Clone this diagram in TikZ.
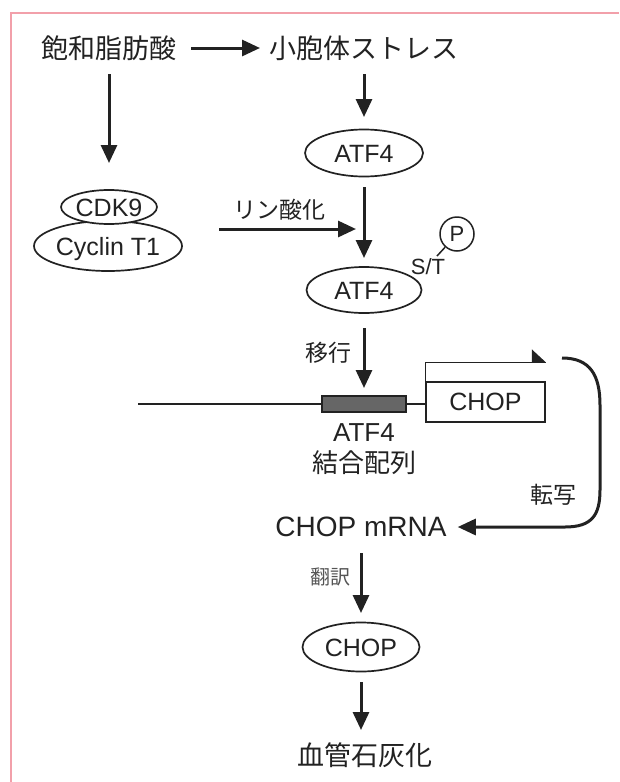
\documentclass[tikz,border=0pt]{standalone}
\usepackage{fontspec}
\setmainfont{Liberation Sans}
\newfontfamily\jp{Noto Sans CJK JP}
\usetikzlibrary{arrows.meta,shapes.geometric}
\definecolor{ink}{HTML}{222222}
\definecolor{softink}{HTML}{555555}
\definecolor{pinkline}{HTML}{F2A0AA}
\definecolor{sitegray}{HTML}{666666}
\begin{document}
\begin{tikzpicture}[x=1pt,y=-1pt,
  arr/.style={line width=3pt, draw=ink, -{Triangle[width=16pt,length=18pt]}},
  prot/.style={ellipse, draw=ink, fill=white, line width=1.7pt, inner sep=0pt, text=ink,
    font=\fontsize{25}{30}\selectfont, text height=18pt, text depth=0pt},
  jpbig/.style={inner sep=0pt, text=ink, font=\jp\fontsize{27}{32}\selectfont},
  jpsite/.style={inner sep=0pt, text=ink, font=\jp\fontsize{26}{30}\selectfont},
  jpmid/.style={inner sep=0pt, text=ink, font=\jp\fontsize{23}{28}\selectfont},
  jpsmall/.style={inner sep=0pt, text=softink, font=\jp\fontsize{20}{24}\selectfont},
  lat/.style={inner sep=0pt, text=ink, font=\fontsize{#1}{#1}\selectfont},
  thin/.style={line width=1.5pt, draw=ink}
]
\useasboundingbox (0,0) rectangle (619,782);
\fill[white] (0,0) rectangle (619,782);
\draw[pinkline, line width=1.2pt] (11,782) -- (11,13) -- (619,13);

% top row
\node[jpbig] (fa) at (109,48) {飽和脂肪酸};
\node[jpbig] (er) at (364,48) {小胞体ストレス};

% proteins
\node[prot, minimum width=118pt, minimum height=47pt] (atf1) at (364,153) {ATF4};
\node[prot, minimum width=148pt, minimum height=50pt] (cyc) at (108,246) {Cyclin T1};
\node[prot, minimum width=96pt, minimum height=34pt] (cdk9) at (109,207) {CDK9};
\node[prot, minimum width=115pt, minimum height=46pt] (atf2) at (364,290) {ATF4};
\node[prot, minimum width=117pt, minimum height=49pt] (chopp) at (361,647) {CHOP};

% phosphorylation
\node[jpmid] (phl) at (279,210) {リン酸化};
\coordinate (ph1) at (219,229);
\coordinate (ph2) at (356,229);
\node[circle, thin, minimum size=34pt, inner sep=0pt, text=ink,
  font=\fontsize{22}{24}\selectfont] (pc) at (457,234) {P};
\node[lat=22] (st) at (428,267) {S/T};
\coordinate (stt) at (437,256);
\draw[thin] (pc.228) -- (stt);

% gene
\node[jpmid] (mv) at (328,353) {移行};
\coordinate (dnal) at (138,404);
\node[draw=ink, fill=sitegray, line width=1.5pt, minimum width=84pt, minimum height=16pt, inner sep=0pt] (site) at (364,404) {};
\node[thin, minimum width=119pt, minimum height=40pt, inner sep=0pt, text=ink,
  font=\fontsize{25}{30}\selectfont] (chop) at (485.5,402) {CHOP};
\draw[thin] (dnal) -- (site.west);
\draw[thin] (site.east) -- (site.east -| chop.west);
\draw[thin] (chop.north west) -- ++(0,-19) coordinate (pk) -- (pk -| chop.north east) coordinate (pe);
\fill[ink] (pe) -- ++(-14,0) -- ++(0,-13) -- cycle;
\node[lat=26] (sitel) at (364,433) {ATF4};
\node[jpsite] (sitej) at (364,463) {結合配列};

% transcription
\node[jpmid] (tr) at (553,495) {転写};
\node[lat=28] (mrna) at (361,527) {CHOP mRNA};
\coordinate (cs) at (562,358);
\draw[arr, shorten >=11pt] (cs) .. controls (590,358) and (600,375) .. (600,405) -- (600,490)
  .. controls (600,515) and (592,527) .. (565,527) -- (mrna.east);

\node[jpsmall] (tl) at (330,577) {翻訳};
\node[jpbig] (calc) at (365,755) {血管石灰化};

% arrows
\draw[arr, shorten <=82pt, shorten >=104pt] (fa.center) -- (er.center);
\draw[arr, shorten <=26pt, shorten >=44pt] (fa.center) -- (cdk9.center);
\draw[arr, shorten <=26pt, shorten >=36pt] (er.center) -- (atf1.center);
\draw[arr, shorten <=34pt, shorten >=32pt] (atf1.center) -- (atf2.center);
\draw[arr] (ph1) -- (ph2);
\draw[arr, shorten <=38pt, shorten >=16pt] (atf2.center) -- (site.center);
\draw[arr, shorten <=26pt, shorten >=34pt] (mrna.center) -- (chopp.center);
\draw[arr, shorten <=35pt, shorten >=25pt] (chopp.center) -- (chopp.center |- calc.center);
\end{tikzpicture}
\end{document}
